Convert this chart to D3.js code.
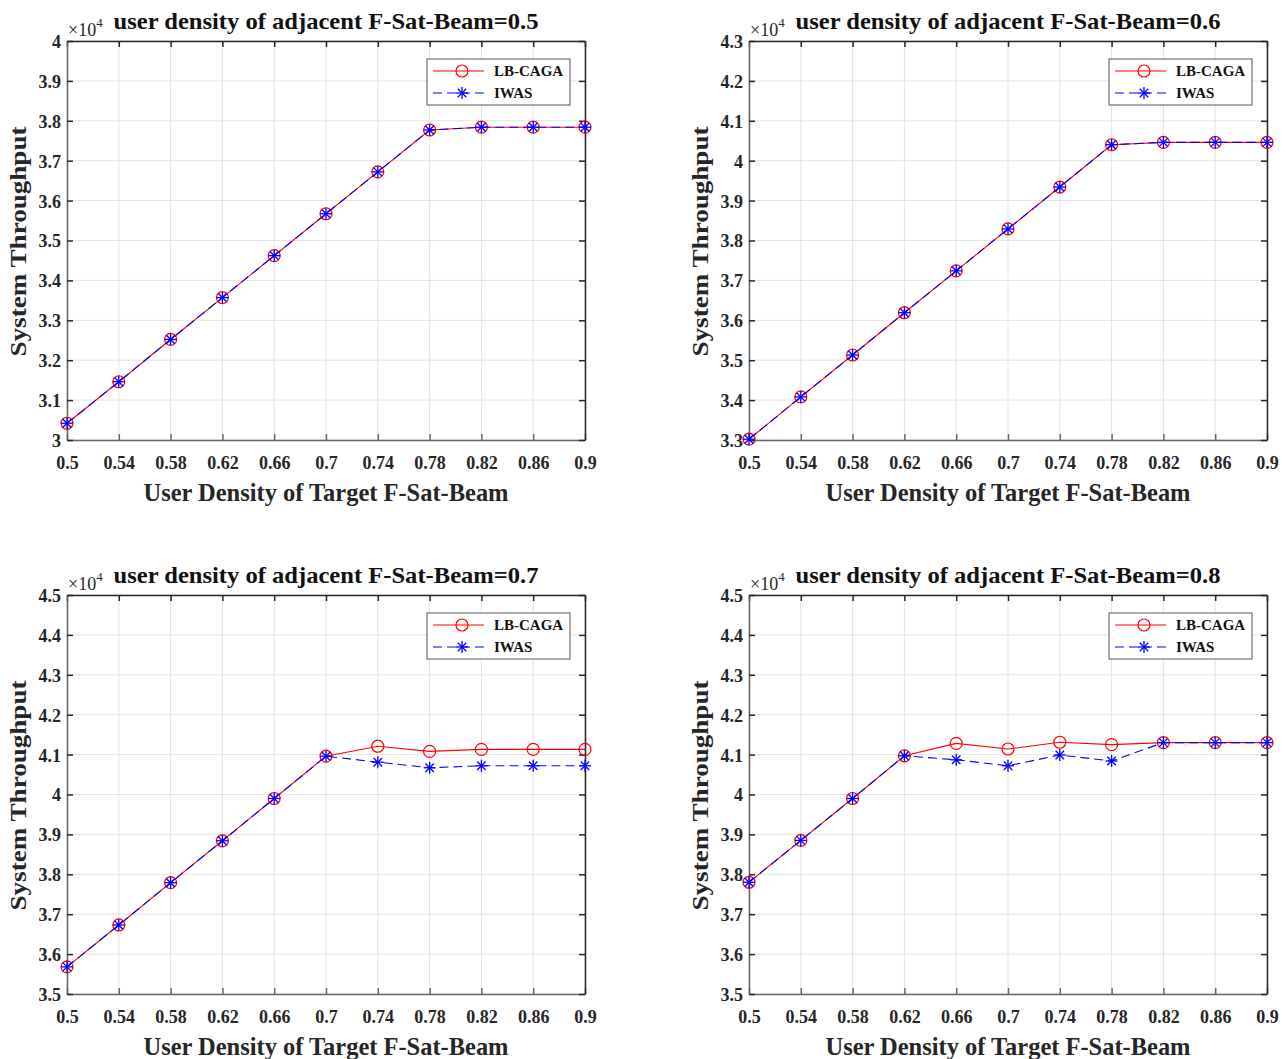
<!DOCTYPE html>
<html>
<head>
<meta charset="utf-8">
<script src="https://cdn.jsdelivr.net/npm/d3@7"></script>
<style>
  body { margin: 0; background: #fff; }
  svg { font-family: "Liberation Serif", "Times New Roman", serif; }
</style>
</head>
<body>
<svg id="svg" width="1288" height="1059"></svg>
<script>
'use strict';

var density = [0.5, 0.54, 0.58, 0.62, 0.66, 0.7, 0.74, 0.78, 0.82, 0.86, 0.9];
var xTickLabels = ['0.5', '0.54', '0.58', '0.62', '0.66', '0.7', '0.74', '0.78', '0.82', '0.86', '0.9'];
var adjacent = ['0.5', '0.6', '0.7', '0.8'];
var yDomains = [[3, 4], [3.3, 4.3], [3.5, 4.5], [3.5, 4.5]];
var seriesNames = ['LB-CAGA', 'IWAS'];

// throughput in units of 1e4
var lbcaga05 = [3.042, 3.146, 3.252, 3.357, 3.462, 3.567, 3.672, 3.777, 3.784, 3.784, 3.784];
var iwas05   = [3.042, 3.146, 3.252, 3.357, 3.462, 3.567, 3.672, 3.777, 3.784, 3.784, 3.784];
var lbcaga06 = [3.302, 3.408, 3.513, 3.619, 3.724, 3.829, 3.934, 4.040, 4.046, 4.046, 4.046];
var iwas06   = [3.302, 3.408, 3.513, 3.619, 3.724, 3.829, 3.934, 4.040, 4.046, 4.046, 4.046];
var lbcaga07 = [3.568, 3.673, 3.779, 3.884, 3.990, 4.096, 4.121, 4.108, 4.113, 4.113, 4.113];
var iwas07   = [3.568, 3.673, 3.779, 3.884, 3.990, 4.096, 4.081, 4.067, 4.072, 4.072, 4.072];
var lbcaga08 = [3.780, 3.885, 3.990, 4.097, 4.128, 4.114, 4.131, 4.125, 4.130, 4.130, 4.130];
var iwas08   = [3.780, 3.885, 3.990, 4.097, 4.087, 4.072, 4.099, 4.084, 4.130, 4.130, 4.130];

var lbcaga = [lbcaga05, lbcaga06, lbcaga07, lbcaga08];
var iwas = [iwas05, iwas06, iwas07, iwas08];

var svg = d3.select('#svg');
var pw = 518, ph = 399;
var origins = [[67, 41], [749, 41], [67, 595], [749, 595]];

function star(g, x, y, r, color) {
  var d = r * 0.7071;
  var s = g.append('g').attr('stroke', color).attr('stroke-width', 1.3);
  s.append('line').attr('x1', x - r).attr('x2', x + r).attr('y1', y).attr('y2', y);
  s.append('line').attr('x1', x).attr('x2', x).attr('y1', y - r).attr('y2', y + r);
  s.append('line').attr('x1', x - d).attr('x2', x + d).attr('y1', y - d).attr('y2', y + d);
  s.append('line').attr('x1', x - d).attr('x2', x + d).attr('y1', y + d).attr('y2', y - d);
}

function panel(i) {
  var ox = origins[i][0], oy = origins[i][1];
  var g = svg.append('g').attr('transform', 'translate(' + ox + ',' + oy + ')');
  var x = d3.scaleLinear().domain([0.5, 0.9]).range([0, pw]);
  var y = d3.scaleLinear().domain(yDomains[i]).range([ph, 0]);
  var yTicks = d3.range(11).map(function(k) { return +(yDomains[i][0] + k * 0.1).toFixed(1); });

  // grid
  g.selectAll('.gx').data(density).enter().append('line')
    .attr('x1', function(d) { return x(d); }).attr('x2', function(d) { return x(d); })
    .attr('y1', 0).attr('y2', ph).attr('stroke', '#e3e3e3').attr('stroke-width', 1);
  g.selectAll('.gy').data(yTicks).enter().append('line')
    .attr('y1', function(d) { return y(d); }).attr('y2', function(d) { return y(d); })
    .attr('x1', 0).attr('x2', pw).attr('stroke', '#e3e3e3').attr('stroke-width', 1);

  // axes with inward ticks
  var xAxis = g.append('g').attr('transform', 'translate(0,' + ph + ')')
    .call(d3.axisBottom(x).tickValues(density).tickSizeInner(-6).tickSizeOuter(0)
      .tickFormat(function(d, k) { return xTickLabels[k]; }));
  xAxis.selectAll('text').attr('dy', 0).attr('y', 29);
  var xTop = g.append('g')
    .call(d3.axisTop(x).tickValues(density).tickSizeInner(-6).tickSizeOuter(0).tickFormat(''));
  var yAxis = g.append('g')
    .call(d3.axisLeft(y).tickValues(yTicks).tickSizeInner(-6).tickSizeOuter(0)
      .tickFormat(function(d) { return d3.format('~g')(d); }));
  yAxis.selectAll('text').attr('x', -6).attr('dy', '0.36em');
  var yRight = g.append('g').attr('transform', 'translate(' + pw + ',0)')
    .call(d3.axisRight(y).tickValues(yTicks).tickSizeInner(-6).tickSizeOuter(0).tickFormat(''));

  [xAxis, yAxis, xTop, yRight].forEach(function(a) {
    a.selectAll('.domain').attr('stroke', '#262626').attr('stroke-width', 1.5);
    a.selectAll('.tick line').attr('stroke', '#262626').attr('stroke-width', 1.5);
    a.selectAll('text').attr('fill', '#262626').style('font-size', '18px')
      .style('font-weight', 'bold').style('font-family', '"Liberation Serif", serif');
  });
  xAxis.selectAll('.domain, .tick line').attr('stroke', '#666');
  yAxis.selectAll('.domain').attr('stroke', '#666');

  // lines
  var line = d3.line().x(function(d, k) { return x(density[k]); }).y(function(d) { return y(d); });
  g.append('path').datum(lbcaga[i]).attr('d', line)
    .attr('fill', 'none').attr('stroke', '#ff0000').attr('stroke-width', 1.1);
  g.selectAll('.mc').data(lbcaga[i]).enter().append('circle')
    .attr('cx', function(d, k) { return x(density[k]); }).attr('cy', function(d) { return y(d); })
    .attr('r', 6).attr('fill', 'none').attr('stroke', '#ff0000').attr('stroke-width', 1.2);
  g.append('path').datum(iwas[i]).attr('d', line)
    .attr('fill', 'none').attr('stroke', '#0000ff').attr('stroke-width', 1.1)
    .attr('stroke-dasharray', '9,5');
  iwas[i].forEach(function(d, k) { star(g, x(density[k]), y(d), 6, '#0000ff'); });

  // legend
  var lg = g.append('g').attr('transform', 'translate(' + (pw - 158) + ',18)');
  lg.append('rect').attr('width', 143).attr('height', 46)
    .attr('fill', '#fff').attr('stroke', '#555').attr('stroke-width', 1);
  lg.append('line').attr('x1', 6).attr('x2', 57).attr('y1', 12).attr('y2', 12)
    .attr('stroke', '#ff0000').attr('stroke-width', 1.1);
  lg.append('circle').attr('cx', 35).attr('cy', 12).attr('r', 6)
    .attr('fill', 'none').attr('stroke', '#ff0000').attr('stroke-width', 1.2);
  lg.append('line').attr('x1', 6).attr('x2', 57).attr('y1', 34).attr('y2', 34)
    .attr('stroke', '#0000ff').attr('stroke-width', 1.1).attr('stroke-dasharray', '9,5');
  star(lg, 35, 34, 6, '#0000ff');
  seriesNames.forEach(function(n, k) {
    lg.append('text').attr('x', 67).attr('y', 17 + k * 22).text(n)
      .style('font-size', '15px').style('font-weight', 'bold').attr('fill', '#111');
  });

  // exponent, title, labels
  var ex = g.append('text').attr('x', 1).attr('y', -5).attr('fill', '#262626')
    .style('font-size', '18px');
  ex.append('tspan').text('\u00d710');
  ex.append('tspan').attr('dy', -9).style('font-size', '13px').text('4');
  g.append('text').attr('x', pw / 2).attr('y', -12).attr('text-anchor', 'middle')
    .attr('textLength', 425).attr('lengthAdjust', 'spacingAndGlyphs')
    .style('font-size', '24px').style('font-weight', 'bold').attr('fill', '#111')
    .text('user density of adjacent F-Sat-Beam=' + adjacent[i]);
  g.append('text').attr('x', pw / 2).attr('y', ph + 61).attr('text-anchor', 'middle')
    .attr('textLength', 365).attr('lengthAdjust', 'spacingAndGlyphs')
    .style('font-size', '25px').style('font-weight', 'bold').attr('fill', '#262626')
    .text('User Density of Target F-Sat-Beam');
  g.append('text').attr('transform', 'translate(-41,' + (ph / 2 + 1) + ') rotate(-90)')
    .attr('text-anchor', 'middle')
    .attr('textLength', 230).attr('lengthAdjust', 'spacingAndGlyphs')
    .style('font-size', '23px').style('font-weight', 'bold').attr('fill', '#262626')
    .text('System Throughput');
}

for (var i = 0; i < 4; i++) panel(i);
</script>
</body>
</html>
